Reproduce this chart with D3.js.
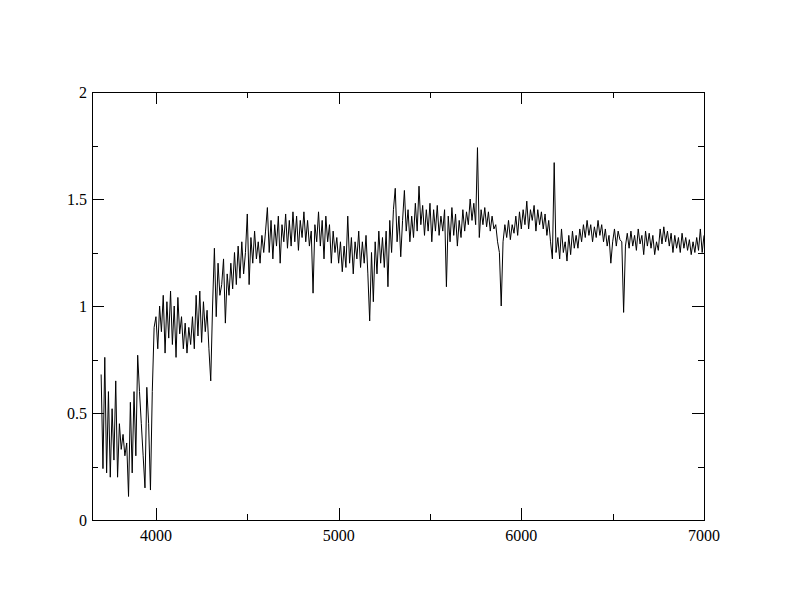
<!DOCTYPE html>
<html>
<head>
<meta charset="utf-8">
<script src="https://cdn.jsdelivr.net/npm/d3@7"></script>
<style>
  body { margin: 0; background: #fff; }
</style>
</head>
<body>
<div id="chart"></div>
<script>
// spectrum sampled every 10 A from 3700 to 7000
const waveStart = 3700, waveStep = 10;
const flux = [
  0.68, 0.24, 0.76, 0.22, 0.60, 0.20, 0.52, 0.28, 0.65, 0.20,   // 3700
  0.45, 0.33, 0.40, 0.30, 0.36, 0.11, 0.55, 0.22, 0.60, 0.30,   // 3800
  0.77, 0.60, 0.45, 0.30, 0.15, 0.62, 0.45, 0.14, 0.60, 0.90,   // 3900
  0.95, 0.80, 1.00, 0.88, 1.05, 0.78, 1.02, 0.85, 1.07, 0.82,   // 4000
  1.00, 0.76, 1.04, 0.87, 0.95, 0.80, 0.92, 0.78, 0.90, 0.82,   // 4100
  0.95, 0.80, 1.05, 0.86, 1.07, 0.83, 1.02, 0.88, 0.98, 0.80,   // 4200
  0.65, 1.00, 1.27, 0.95, 1.20, 1.05, 1.10, 1.22, 0.92, 1.15,   // 4300
  1.05, 1.20, 1.08, 1.25, 1.10, 1.28, 1.13, 1.30, 1.15, 1.25,   // 4400
  1.43, 1.10, 1.32, 1.20, 1.35, 1.22, 1.30, 1.20, 1.33, 1.25,   // 4500
  1.35, 1.46, 1.25, 1.40, 1.22, 1.38, 1.28, 1.42, 1.20, 1.38,   // 4600
  1.30, 1.43, 1.27, 1.40, 1.28, 1.44, 1.30, 1.42, 1.26, 1.40,   // 4700
  1.32, 1.44, 1.30, 1.40, 1.28, 1.35, 1.06, 1.38, 1.30, 1.44,   // 4800
  1.28, 1.40, 1.22, 1.42, 1.30, 1.38, 1.20, 1.35, 1.25, 1.32,   // 4900
  1.20, 1.30, 1.16, 1.28, 1.18, 1.42, 1.20, 1.32, 1.15, 1.30,   // 5000
  1.22, 1.35, 1.18, 1.30, 1.20, 1.33, 1.15, 0.93, 1.25, 1.02,   // 5100
  1.30, 1.15, 1.35, 1.20, 1.32, 1.18, 1.35, 1.09, 1.40, 1.25,   // 5200
  1.45, 1.55, 1.30, 1.42, 1.23, 1.40, 1.54, 1.35, 1.45, 1.30,   // 5300
  1.42, 1.32, 1.48, 1.35, 1.56, 1.38, 1.47, 1.33, 1.45, 1.35,   // 5400
  1.48, 1.30, 1.45, 1.35, 1.47, 1.33, 1.42, 1.35, 1.45, 1.09,   // 5500
  1.42, 1.30, 1.46, 1.33, 1.43, 1.28, 1.40, 1.32, 1.45, 1.35,   // 5600
  1.44, 1.38, 1.50, 1.40, 1.48, 1.38, 1.74, 1.32, 1.45, 1.38,   // 5700
  1.46, 1.37, 1.44, 1.35, 1.42, 1.36, 1.38, 1.30, 1.25, 1.00,   // 5800
  1.30, 1.38, 1.32, 1.40, 1.31, 1.38, 1.34, 1.42, 1.33, 1.44,   // 5900
  1.36, 1.45, 1.38, 1.49, 1.36, 1.45, 1.40, 1.47, 1.35, 1.45,   // 6000
  1.38, 1.44, 1.36, 1.43, 1.33, 1.40, 1.30, 1.22, 1.67, 1.25,   // 6100
  1.32, 1.22, 1.36, 1.25, 1.30, 1.21, 1.33, 1.24, 1.35, 1.27,   // 6200
  1.33, 1.27, 1.36, 1.30, 1.38, 1.32, 1.40, 1.33, 1.38, 1.30,   // 6300
  1.37, 1.32, 1.40, 1.33, 1.38, 1.30, 1.36, 1.28, 1.33, 1.20,   // 6400
  1.30, 1.36, 1.28, 1.35, 1.31, 1.30, 0.97, 1.28, 1.34, 1.27,   // 6500
  1.35, 1.28, 1.33, 1.26, 1.36, 1.29, 1.33, 1.24, 1.35, 1.28,   // 6600
  1.34, 1.27, 1.33, 1.24, 1.30, 1.26, 1.36, 1.29, 1.37, 1.30,   // 6700
  1.35, 1.28, 1.34, 1.25, 1.33, 1.27, 1.32, 1.25, 1.34, 1.27,   // 6800
  1.32, 1.26, 1.31, 1.24, 1.30, 1.25, 1.32, 1.26, 1.36, 1.25,   // 6900
  1.33                                                          // 7000
];

const xMajor = [4000, 5000, 6000, 7000];
const xMinor = [4500, 5500, 6500];
const yMajor = [0, 0.5, 1, 1.5, 2];
const yMinor = [0.25, 0.75, 1.25, 1.75];

const width = 792, height = 612;
const margin = {top: 92, right: 88, bottom: 92, left: 92};
const majorLen = 12, minorLen = 6;
const fontFamily = '"Liberation Serif", "Times New Roman", "DejaVu Serif", serif';

const data = flux.map((f, i) => ({w: waveStart + i * waveStep, f: f}));

const x = d3.scaleLinear().domain([3650, 7000]).range([margin.left, width - margin.right]);
const y = d3.scaleLinear().domain([0, 2]).range([height - margin.bottom, margin.top]);

const svg = d3.select('#chart').append('svg')
  .attr('width', width)
  .attr('height', height)
  .attr('font-family', fontFamily)
  .attr('font-size', 16);

const x0 = x.range()[0], x1 = x.range()[1];
const y0 = y.range()[0], y1 = y.range()[1];

// spectrum line
svg.append('path')
  .datum(data)
  .attr('fill', 'none')
  .attr('stroke', '#000')
  .attr('stroke-width', 1)
  .attr('d', d3.line().x(d => x(d.w)).y(d => y(d.f)));

// ticks, inward on all four sides
const ticks = svg.append('g').attr('stroke', '#000').attr('stroke-width', 1).attr('shape-rendering', 'crispEdges');
[[xMajor, majorLen], [xMinor, minorLen]].forEach(([vals, len]) => {
  vals.forEach(v => {
    const px = Math.round(x(v)) + 0.5;
    ticks.append('line').attr('x1', px).attr('x2', px).attr('y1', y0).attr('y2', y0 - len);
    ticks.append('line').attr('x1', px).attr('x2', px).attr('y1', y1).attr('y2', y1 + len);
  });
});
[[yMajor, majorLen], [yMinor, minorLen]].forEach(([vals, len]) => {
  vals.forEach(v => {
    const py = Math.round(y(v)) + 0.5;
    ticks.append('line').attr('y1', py).attr('y2', py).attr('x1', x0).attr('x2', x0 + len);
    ticks.append('line').attr('y1', py).attr('y2', py).attr('x1', x1).attr('x2', x1 - len);
  });
});

// frame
svg.append('rect')
  .attr('x', x0 + 0.5).attr('y', y1 + 0.5)
  .attr('width', x1 - x0).attr('height', y0 - y1)
  .attr('fill', 'none').attr('stroke', '#000').attr('stroke-width', 1)
  .attr('shape-rendering', 'crispEdges');

// tick labels
svg.append('g').selectAll('text')
  .data(xMajor)
  .join('text')
  .attr('x', d => x(d))
  .attr('y', y0 + 21)
  .attr('text-anchor', 'middle')
  .text(d => d);

svg.append('g').selectAll('text')
  .data(yMajor)
  .join('text')
  .attr('x', x0 - 5)
  .attr('y', d => y(d))
  .attr('dy', '0.35em')
  .attr('text-anchor', 'end')
  .text(d => d);
</script>
</body>
</html>
